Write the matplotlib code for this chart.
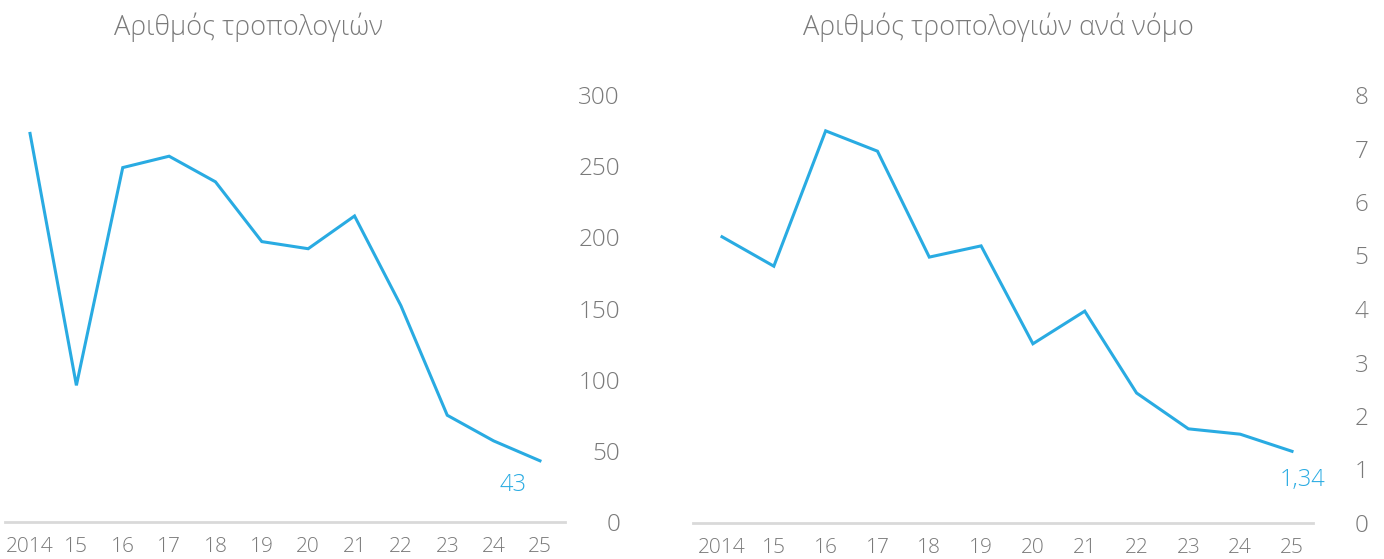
import matplotlib
matplotlib.use("Agg")
import matplotlib.pyplot as plt

plt.rcParams['font.family'] = ['Open Sans', 'DejaVu Sans']
plt.rcParams['font.weight'] = 'light'

years = ['2014', '15', '16', '17', '18', '19', '20', '21', '22', '23', '24', '25']
amendments = [273, 96, 249, 257, 239, 197, 192, 215, 152, 75, 57, 43]
per_law = [5.35, 4.80, 7.33, 6.95, 4.97, 5.18, 3.35, 3.96, 2.43, 1.76, 1.66, 1.34]

blue = '#29abe2'
grey_txt = '#7a7a7a'
grey_line = '#d9d9d9'

W, H = 1384, 559
fig = plt.figure(figsize=(W / 100, H / 100), dpi=100)


def px_axes(x0, y0, x1, y1):
    # pixel box (top-left origin) -> figure axes
    return fig.add_axes([x0 / W, 1 - y1 / H, (x1 - x0) / W, (y1 - y0) / H])


def style(ax, ymax, yticks, xlim, pad_pt, ha):
    x = range(len(years))
    ax.set_xlim(*xlim)
    ax.set_ylim(0, ymax)
    ax.set_xticks(list(x))
    ax.set_xticklabels(years)
    ax.set_yticks(yticks)
    ax.yaxis.tick_right()
    for s in ['top', 'left', 'right']:
        ax.spines[s].set_visible(False)
    ax.spines['bottom'].set_color(grey_line)
    ax.spines['bottom'].set_linewidth(2)
    ax.tick_params(axis='x', length=0, pad=11, labelsize=15, colors=grey_txt)
    ax.tick_params(axis='y', length=0, pad=pad_pt, labelsize=17.5, colors=grey_txt)
    for lab in ax.get_yticklabels():
        lab.set_horizontalalignment(ha)
    ax.patch.set_visible(False)


# left: number of amendments
ax1 = px_axes(5, 95, 565, 522)
ax1.plot(range(len(years)), amendments, color=blue, lw=2.2, solid_joinstyle='miter')
style(ax1, 300, [0, 50, 100, 150, 200, 250, 300], (-0.54, 11.54), 39.6, 'right')
ax1.text(len(years) - 1.58, 26, '43', color=blue, fontsize=17, ha='center', va='center')
fig.text(248 / W, 1 - 27 / H, 'Αριθμός τροπολογιών', color=grey_txt, fontsize=19.5,
         ha='center', va='center')

# right: amendments per law
ax2 = px_axes(693, 95, 1313, 523)
ax2.plot(range(len(years)), per_law, color=blue, lw=2.2, solid_joinstyle='miter')
style(ax2, 8, list(range(9)), (-0.56, 11.405), 30, 'left')
ax2.text(len(years) - 0.8, 0.8, '1,34', color=blue, fontsize=17, ha='center', va='center')
fig.text(998 / W, 1 - 27 / H, 'Αριθμός τροπολογιών ανά νόμο', color=grey_txt, fontsize=19.5,
         ha='center', va='center')

fig.savefig('out.png', dpi=100)
